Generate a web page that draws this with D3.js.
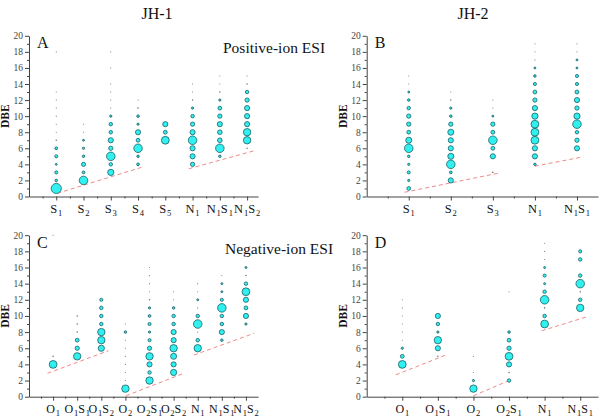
<!DOCTYPE html>
<html><head><meta charset="utf-8">
<script src="https://cdn.jsdelivr.net/npm/d3@7"></script>
<style>body{margin:0;background:#fff}svg{display:block}svg text{font-family:"Liberation Serif","Times New Roman","DejaVu Serif",serif}</style>
</head><body>
<svg id="c" width="600" height="420"></svg>
<script>
// ---- data ----
const catsA = ["S1","S2","S3","S4","S5","N1","N1S1","N1S2"];
const catsB = ["S1","S2","S3","N1","N1S1"];
const catsC = ["O1","O1S1","O1S2","O2","O2S1","O2S2","N1","N1S1","N1S2"];
const catsD = ["O1","O1S1","O2","O2S1","N1","N1S1"];
const yTicks = [0,2,4,6,8,10,12,14,16,18,20];
// points: [category position, DBE, relative abundance]
const pointsA = [
 [1,1,85],[1,2,5],[1,3,8],[1,4,3],[1,5,8],[1,6,6],[1,7,2],[1,8,1],[1,9,1],[1,10,1],[1,11,1],[1,12,1],[1,13,1],[1,18,1],
 [2,2,60],[2,3,6],[2,4,14],[2,5,5],[2,6,4],[2,7,3],[2,8,1],[2,9,1],
 [3,3,32],[3,4,10],[3,5,60],[3,6,15],[3,7,22],[3,8,10],[3,9,10],[3,10,4],[3,11,1],[3,12,1],[3,13,1],[3,14,1],[3,16,1],[3,18,1],
 [4,4,6],[4,5,5],[4,6,60],[4,7,12],[4,8,22],[4,9,4],[4,10,5],[4,11,2],[4,12,1],
 [5,7,50],[5,8,12],[5,9,22],
 [6,4,15],[6,5,22],[6,6,22],[6,7,60],[6,8,22],[6,9,15],[6,10,10],[6,11,4],[6,12,2],[6,13,1],[6,14,1],
 [7,5,5],[7,6,60],[7,7,18],[7,8,18],[7,9,22],[7,10,15],[7,11,12],[7,12,4],[7,13,2],[7,14,1],[7,15,1],
 [8,6,2],[8,7,45],[8,8,45],[8,9,22],[8,10,22],[8,11,22],[8,12,15],[8,13,10],[8,14,2],[8,15,1]
];
const pointsB = [
 [1,1,12],[1,2,4],[1,3,8],[1,4,4],[1,5,5],[1,6,60],[1,7,30],[1,8,12],[1,9,15],[1,10,15],[1,11,10],[1,12,5],[1,13,3],[1,14,1],[1,15,1],
 [2,2,22],[2,3,6],[2,4,60],[2,5,30],[2,6,22],[2,7,22],[2,8,30],[2,9,15],[2,10,5],[2,11,4],[2,12,2],[2,13,1],
 [3,3,2],[3,5,22],[3,6,12],[3,7,60],[3,8,12],[3,9,15],[3,10,3],[3,11,1],[3,12,1],
 [4,4,5],[4,5,22],[4,6,22],[4,7,50],[4,8,50],[4,9,50],[4,10,32],[4,11,22],[4,12,15],[4,13,12],[4,14,8],[4,15,5],[4,16,3],[4,17,1],[4,18,1],[4,19,1],
 [5,6,22],[5,7,15],[5,8,10],[5,9,60],[5,10,32],[5,11,15],[5,12,22],[5,13,12],[5,14,8],[5,15,8],[5,16,3],[5,17,3],[5,18,1],[5,19,1]
];
const pointsC = [
 [1,4,50],[1,5,2],[1,20,1],
 [2,5,45],[2,6,15],[2,7,12],[2,8,2],[2,9,2],[2,10,2],
 [3,6,32],[3,7,45],[3,8,45],[3,9,10],[3,10,10],[3,11,10],[3,12,8],
 [4,1,45],[4,2,1],[4,3,1],[4,4,1],[4,5,1],[4,6,1],[4,7,1],[4,8,5],[4,9,1],
 [5,2,45],[5,3,10],[5,4,22],[5,5,45],[5,6,15],[5,7,8],[5,8,4],[5,9,8],[5,10,6],[5,11,4],[5,12,2],[5,13,1],[5,14,1],[5,15,1],[5,16,1],
 [6,3,32],[6,4,22],[6,5,30],[6,6,45],[6,7,22],[6,8,22],[6,9,10],[6,10,10],[6,11,5],[6,12,1],[6,13,1],
 [7,6,45],[7,7,10],[7,8,1],[7,9,60],[7,10,10],[7,11,1],[7,12,3],[7,13,1],[7,14,1],
 [8,7,5],[8,8,22],[8,9,10],[8,10,10],[8,11,60],[8,12,8],[8,13,3],[8,14,3],[8,15,1],
 [9,9,4],[9,10,22],[9,11,12],[9,12,22],[9,13,50],[9,14,10],[9,15,2],[9,16,3]
];
const pointsD = [
 [1,4,50],[1,5,12],[1,6,4],[1,7,1],[1,8,1],[1,9,1],[1,10,1],[1,11,1],[1,12,1],
 [2,5,2],[2,6,22],[2,7,45],[2,8,4],[2,9,10],[2,10,22],
 [3,1,45],[3,2,4],[3,3,1],[3,5,1],
 [4,2,10],[4,3,2],[4,4,22],[4,5,50],[4,6,15],[4,7,12],[4,8,5],[4,13,1],
 [5,9,50],[5,10,10],[5,11,2],[5,12,60],[5,13,10],[5,14,3],[5,15,8],[5,16,3],[5,17,1],[5,18,1],[5,19,1],
 [6,11,45],[6,12,10],[6,13,2],[6,14,60],[6,15,10],[6,17,10],[6,18,8]
];
// dashed guide lines: [x1, dbe1, x2, dbe2]
const linesA = [[1.04,0.4,4.15,3.65],[5.86,3.45,8.3,5.73]];
const linesB = [[0.9,0.53,3.13,2.9],[4.0,3.77,5.11,4.9]];
const linesC = [[0.77,2.9,3.3,5.7],[4.03,0.12,6.42,2.9],[6.84,5.16,9.34,7.85]];
const linesD = [[0.82,2.72,2.25,5.2],[3.0,0.12,3.95,1.9],[4.92,8.17,6.19,9.9]];
const titles = ["JH-1","JH-2"];
const modeLabels = ["Positive-ion ESI","Negative-ion ESI"];

// ---- drawing ----
const svg = d3.select("#c");
const rScale = d3.scaleSqrt().domain([0,100]).range([0,5.5]);

const panels = [
 {id:"A", cats:catsA, pts:pointsA, lines:linesA, xd:8.4, x0:29, x1:258, y0:196.5, y1:35.8, fs:12.5},
 {id:"B", cats:catsB, pts:pointsB, lines:linesB, xd:5.5, x0:366.7, x1:598, y0:196.5, y1:35.8, fs:12.5},
 {id:"C", cats:catsC, pts:pointsC, lines:linesC, xd:9.5, x0:29, x1:258, y0:396.7, y1:235.2, fs:12},
 {id:"D", cats:catsD, pts:pointsD, lines:linesD, xd:6.5, x0:366.7, x1:598, y0:396.7, y1:235.2, fs:12}
];

panels.forEach(p => {
  const x = d3.scaleLinear().domain([0,p.xd]).range([p.x0,p.x1]);
  const y = d3.scaleLinear().domain([0,20]).range([p.y0,p.y1]);
  const g = svg.append("g");

  // y axis minor
  g.append("g").attr("transform",`translate(${p.x0},0)`)
    .call(d3.axisLeft(y).tickValues(d3.range(1,20,2)).tickSize(2).tickFormat(""))
    .call(a=>a.select(".domain").remove())
    .call(a=>a.selectAll("line").attr("stroke","#444"));
  const ya = g.append("g").attr("transform",`translate(${p.x0},0)`)
    .call(d3.axisLeft(y).tickValues(yTicks).tickSize(4).tickSizeOuter(0).tickPadding(2));
  ya.selectAll("text").attr("font-family",null).attr("font-size",9.5).attr("fill","#444");
  ya.attr("font-family",null);
  ya.selectAll("line,path").attr("stroke","#444");

  // x axis
  const half = d3.range(0.5, p.xd, 1);
  g.append("g").attr("transform",`translate(0,${p.y0})`)
    .call(d3.axisBottom(x).tickValues(half).tickSize(2).tickFormat(""))
    .call(a=>a.select(".domain").remove())
    .call(a=>a.selectAll("line").attr("stroke","#444"));
  const xa = g.append("g").attr("transform",`translate(0,${p.y0})`)
    .call(d3.axisBottom(x).tickValues(d3.range(1,p.cats.length+1)).tickSize(4).tickSizeOuter(0).tickFormat(""));
  xa.selectAll("line,path").attr("stroke","#444");

  // category labels with subscripts
  p.cats.forEach((c,i) => {
    const t = g.append("text").attr("x",x(i+1)).attr("y",p.y0+16)
      .attr("text-anchor","middle").attr("font-size",p.fs).attr("fill","#111");
    const parts = c.match(/[A-Z]\d/g);
    parts.forEach((s,k) => {
      t.append("tspan").attr("dy",k? -3:0).text(s[0]);
      t.append("tspan").attr("font-size",8.5).attr("dy",3).attr("dx",0.8).text(s[1]);
    });
  });

  // DBE label
  g.append("text").attr("transform",`translate(${p.x0-20},${(p.y0+p.y1)/2}) rotate(-90)`)
    .attr("text-anchor","middle").attr("font-weight","bold")
    .attr("font-size",11.5).attr("fill","#111").text("DBE");

  // panel letter
  g.append("text").attr("x",p.x0+8).attr("y",p.y1+12.5)
    .attr("font-size",16).attr("fill","#111").text(p.id);

  // dashed guides
  g.selectAll("line.guide").data(p.lines).join("line").attr("class","guide")
    .attr("x1",d=>x(d[0])).attr("y1",d=>y(d[1])).attr("x2",d=>x(d[2])).attr("y2",d=>y(d[3]))
    .attr("stroke","#f08a8a").attr("stroke-width",1).attr("stroke-dasharray","4,3");

  // bubbles (small drawn last so they stay visible)
  const pts = p.pts.slice().sort((a,b)=>b[2]-a[2]);
  g.selectAll("circle.b").data(pts).join("circle").attr("class","b")
    .attr("cx",d=>x(d[0])).attr("cy",d=>y(d[1])).attr("r",d=>rScale(d[2]))
    .attr("fill",d=>d[2]<=2?"#777":"#30f0f0")
    .attr("stroke",d=>d[2]<=2?"none":"#1d5f66")
    .attr("stroke-width",d=>d[2]<=6?0.9:0.8);
});

// column titles
svg.append("text").attr("x",157).attr("y",18.5).attr("text-anchor","middle")
  .attr("font-size",16).attr("fill","#111").text(titles[0]);
svg.append("text").attr("x",473).attr("y",18.5).attr("text-anchor","middle")
  .attr("font-size",16).attr("fill","#111").text(titles[1]);
// mode labels
svg.append("text").attr("x",223).attr("y",53)
  .attr("font-size",15.5).attr("fill","#111").text(modeLabels[0]);
svg.append("text").attr("x",225).attr("y",254)
  .attr("font-size",15.5).attr("fill","#111").text(modeLabels[1]);
</script>
</body></html>
